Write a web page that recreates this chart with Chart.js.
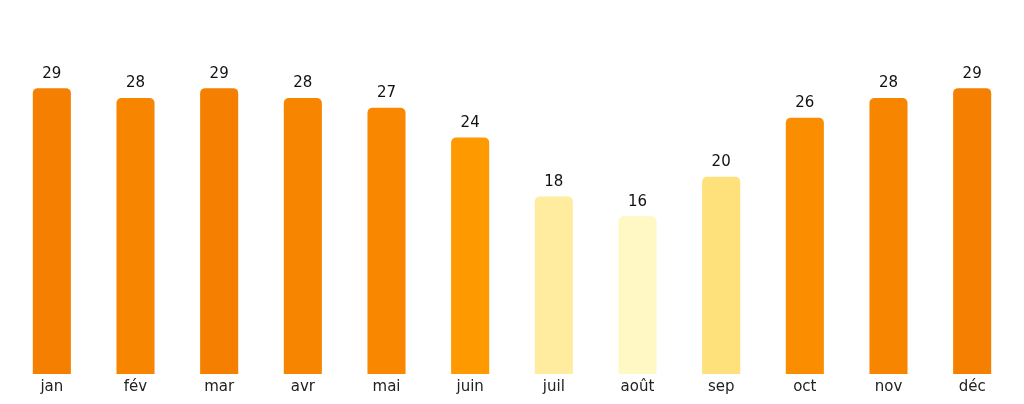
<!DOCTYPE html>
<html>
<head>
<meta charset="utf-8">
<script src="https://cdn.jsdelivr.net/npm/chart.js@4"></script>
<style>
    html, body { margin: 0; padding: 0; background: #fff; }
    #wrap { width: 1024px; height: 404px; position: relative; }
</style>
</head>
<body>
<div id="wrap"><canvas id="chart"></canvas></div>
<script>
// Monthly values
const months = ['jan', 'fév', 'mar', 'avr', 'mai', 'juin', 'juil', 'août', 'sep', 'oct', 'nov', 'déc']
const values = [29, 28, 29, 28, 27, 24, 18, 16, 20, 26, 28, 29]
const barColors = ['#f57f00', '#f88500', '#f57f00', '#f88500', '#f98800', '#fe9900',
    '#ffec9f', '#fff8c4', '#fee17a', '#fb8d00', '#f88500', '#f57f00']

// Draw value labels above each bar
const valueLabels = {
    id: 'valueLabels',
    afterDatasetsDraw(chart) {
        const ctx = chart.ctx
        const meta = chart.getDatasetMeta(0)
        ctx.save()
        ctx.font = '15px "DejaVu Sans"'
        ctx.fillStyle = '#111'
        ctx.textAlign = 'center'
        ctx.textBaseline = 'bottom'
        meta.data.forEach((bar, i) => {
            ctx.fillText(String(values[i]), bar.x, bar.y - 7)
        })
        ctx.restore()
    }
}

const chart = new Chart(document.getElementById('chart'), {
    type: 'bar',
    data: {
        labels: months,
        datasets: [{
            data: values,
            backgroundColor: barColors,
            borderWidth: 0,
            borderRadius: { topLeft: 5, topRight: 5 },
            borderSkipped: 'bottom',
            categoryPercentage: 1,
            barPercentage: 0.455
        }]
    },
    options: {
        responsive: true,
        maintainAspectRatio: false,
        animation: false,
        layout: { padding: { left: 10, right: 10, top: 29, bottom: 4 } },
        plugins: {
            legend: { display: false },
            tooltip: { enabled: false }
        },
        scales: {
            x: {
                grid: { display: false, drawTicks: false },
                border: { display: false },
                ticks: {
                    color: '#222',
                    padding: 4,
                    font: { family: 'DejaVu Sans', size: 15 }
                }
            },
            y: {
                display: false,
                min: 0,
                max: 35
            }
        }
    },
    plugins: [valueLabels]
})
</script>
</body>
</html>
